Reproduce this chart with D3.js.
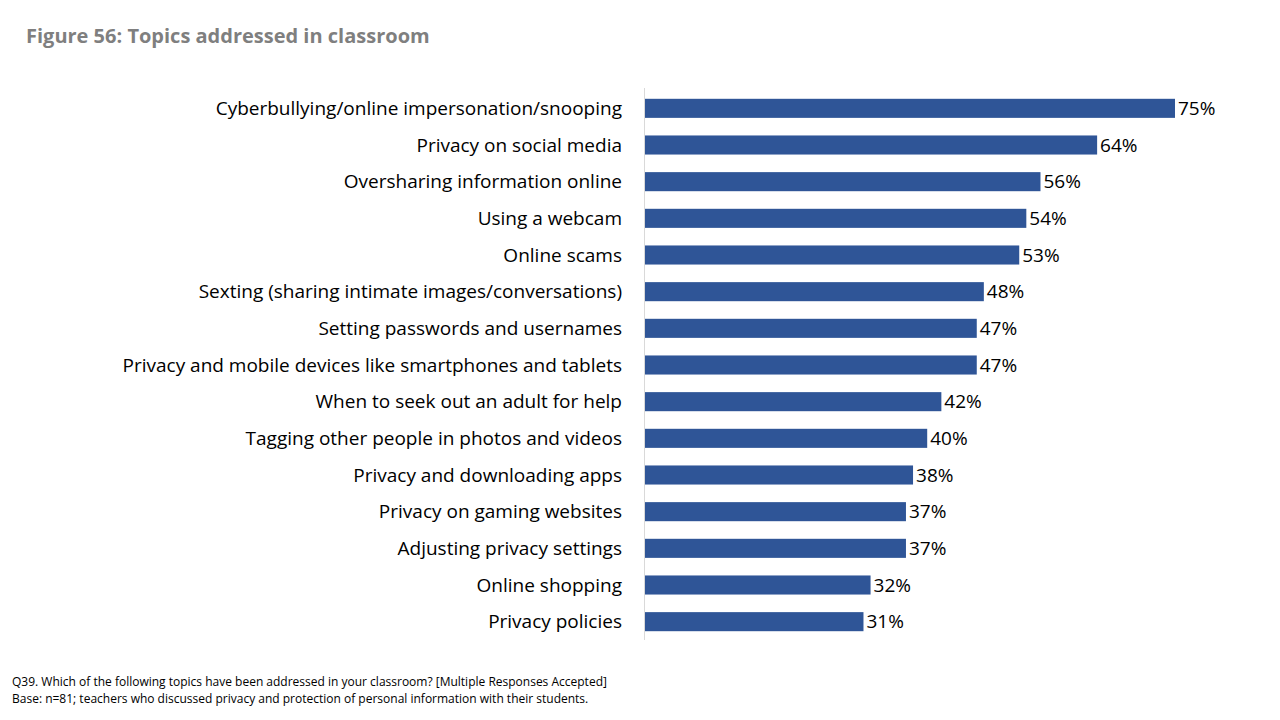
<!DOCTYPE html>
<html><head><meta charset="utf-8">
<script src="https://cdn.jsdelivr.net/npm/d3@7"></script>
<style>body{margin:0;background:#fff}text{font-family:"Open Sans",sans-serif}</style>
</head><body>
<svg id="c" width="1280" height="720"></svg>
<script>
const categories = ["Cyberbullying/online impersonation/snooping","Privacy on social media","Oversharing information online","Using a webcam","Online scams","Sexting (sharing intimate images/conversations)","Setting passwords and usernames","Privacy and mobile devices like smartphones and tablets","When to seek out an adult for help","Tagging other people in photos and videos","Privacy and downloading apps","Privacy on gaming websites","Adjusting privacy settings","Online shopping","Privacy policies"];
const values = [75,64,56,54,53,48,47,47,42,40,38,37,37,32,31];
const title = "Figure 56: Topics addressed in classroom";
const notes = ["Q39. Which of the following topics have been addressed in your classroom? [Multiple Responses Accepted]","Base: n=81; teachers who discussed privacy and protection of personal information with their students."];

const svg = d3.select("#c");
const x = d3.scaleLinear().domain([0,75]).range([644,1175]);
const y = d3.scaleBand().domain(categories).range([90,640]).paddingInner(0.48).paddingOuter(0.24);

svg.append("text").attr("x",26).attr("y",43).attr("fill","#7f7f7f").attr("font-size",20).attr("font-weight","bold").text(title);

svg.selectAll("rect.bar").data(values).join("rect").attr("class","bar")
 .attr("x",x(0)).attr("y",(d,i)=>y(categories[i])).attr("width",d=>x(d)-x(0)).attr("height",y.bandwidth()).attr("fill","#2f5597");

svg.selectAll("text.val").data(values).join("text").attr("class","val")
 .attr("x",d=>x(d)+3).attr("y",(d,i)=>y(categories[i])+y.bandwidth()/2).attr("dy","0.35em")
 .attr("font-size",19).attr("fill","#000").text(d=>d+"%");

svg.selectAll("text.cat").data(categories).join("text").attr("class","cat")
 .attr("x",622).attr("y",d=>y(d)+y.bandwidth()/2).attr("dy","0.35em").attr("text-anchor","end")
 .attr("font-size",19).attr("fill","#000").text(d=>d);

svg.append("line").attr("x1",644.5).attr("x2",644.5).attr("y1",88).attr("y2",640).attr("stroke","#d9d9d9");

notes.forEach((n,i)=>svg.append("text").attr("x",12).attr("y",686+i*17).attr("font-size",12).attr("fill","#000").text(n));
</script>
</body></html>
